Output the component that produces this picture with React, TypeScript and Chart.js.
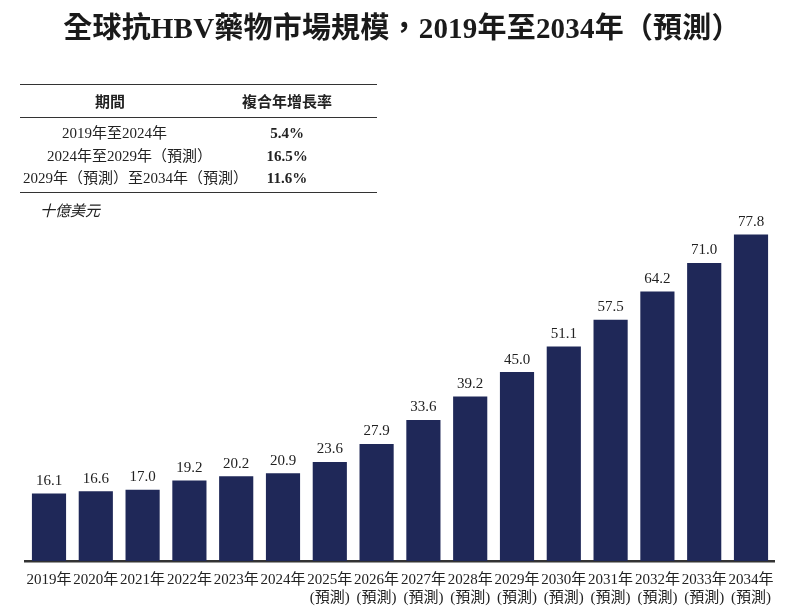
import React, { useEffect, useRef } from "react";
import { Chart, registerables } from "chart.js";

Chart.register(...registerables);

const years = ["2019年", "2020年", "2021年", "2022年", "2023年", "2024年", "2025年", "2026年", "2027年", "2028年", "2029年", "2030年", "2031年", "2032年", "2033年", "2034年"];
const forecastFlags = [false, false, false, false, false, false, true, true, true, true, true, true, true, true, true, true];
const marketSize = [16.1, 16.6, 17.0, 19.2, 20.2, 20.9, 23.6, 27.9, 33.6, 39.2, 45.0, 51.1, 57.5, 64.2, 71.0, 77.8];
const periods = ["2019年至2024年", "2024年至2029年（預測）", "2029年（預測）至2034年（預測）"];
const cagrs = ["5.4%", "16.5%", "11.6%"];

const SERIF = "'Liberation Serif', 'Times New Roman', 'Noto Sans CJK TC', serif";
const SANS = "'Noto Sans CJK TC', 'Noto Sans', sans-serif";
const BAR_COLOR = "#1f2858";
const periodLefts = [62, 47, 23];

const valueLabelPlugin = {
  id: "valueLabels",
  afterDatasetsDraw(chart: any) {
    const ctx = chart.ctx;
    const meta = chart.getDatasetMeta(0);
    ctx.save();
    ctx.font = `15px ${SERIF}`;
    ctx.fillStyle = "#222";
    ctx.textAlign = "center";
    ctx.textBaseline = "bottom";
    meta.data.forEach((bar: any, i: number) => {
      ctx.fillText(marketSize[i].toFixed(1), bar.x, bar.y - 5);
    });
    ctx.restore();
  },
};

export default function App() {
  const canvasRef = useRef<HTMLCanvasElement | null>(null);

  useEffect(() => {
    const labels = years.map((y, i) => (forecastFlags[i] ? [y, "(預測)"] : y));
    const chart = new Chart(canvasRef.current as HTMLCanvasElement, {
      type: "bar",
      data: {
        labels,
        datasets: [
          {
            data: marketSize,
            backgroundColor: BAR_COLOR,
            categoryPercentage: 1,
            barPercentage: 0.73,
          },
        ],
      },
      options: {
        animation: false,
        responsive: false,
        maintainAspectRatio: false,
        layout: { padding: { left: 25.6, right: 17.6, top: 200, bottom: 0 } },
        plugins: { legend: { display: false }, tooltip: { enabled: false }, title: { display: false } },
        scales: {
          x: {
            grid: { display: false },
            border: { display: true, color: "#333", width: 2.5 },
            ticks: {
              autoSkip: false,
              maxRotation: 0,
              minRotation: 0,
              padding: 2,
              color: "#222",
              font: { family: SERIF, size: 15, lineHeight: 1.2 },
            },
          },
          y: {
            display: false,
            min: 0,
            max: 86,
          },
        },
      },
      plugins: [valueLabelPlugin],
    });
    return () => chart.destroy();
  }, []);

  const abs = (extra: React.CSSProperties): React.CSSProperties => ({
    position: "absolute",
    whiteSpace: "nowrap",
    color: "#222",
    ...extra,
  });

  return (
    <div style={{ position: "absolute", left: 0, top: 0, width: 792, height: 609, background: "#fff", overflow: "hidden" }}>
      <canvas ref={canvasRef} width={792} height={609} style={{ position: "absolute", left: 0, top: 0, width: 792, height: 609 }} />
      <div style={abs({ left: 6, width: 792, top: 10, textAlign: "center", fontFamily: SERIF, fontWeight: "bold", fontSize: 29, letterSpacing: 0.2, lineHeight: "36px", color: "#1a1a1a" })}>
        全球抗HBV藥物市場規模，2019年至2034年（預測）
      </div>
      <div style={abs({ left: 20, top: 84, width: 357, height: 0, borderTop: "1.5px solid #333" })} />
      <div style={abs({ left: 20, top: 117, width: 357, height: 0, borderTop: "1px solid #333" })} />
      <div style={abs({ left: 20, top: 192, width: 357, height: 0, borderTop: "1.5px solid #333" })} />
      <div style={abs({ left: 60, width: 100, top: 90, textAlign: "center", fontFamily: SANS, fontWeight: "bold", fontSize: 15, lineHeight: "22px" })}>期間</div>
      <div style={abs({ left: 237, width: 100, top: 90, textAlign: "center", fontFamily: SANS, fontWeight: "bold", fontSize: 15, lineHeight: "22px" })}>複合年增長率</div>
      {periods.map((p, i) => (
        <div key={p} style={abs({ left: periodLefts[i], top: 122 + i * 22.5, fontFamily: SERIF, fontSize: 15, lineHeight: "22px" })}>
          {p}
        </div>
      ))}
      {cagrs.map((c, i) => (
        <div key={c} style={abs({ left: 237, width: 100, top: 122 + i * 22.5, textAlign: "center", fontFamily: SERIF, fontWeight: "bold", fontSize: 15, lineHeight: "22px" })}>
          {c}
        </div>
      ))}
      <div style={abs({ left: 40, top: 200, fontFamily: SERIF, fontStyle: "italic", fontSize: 15, lineHeight: "22px" })}>十億美元</div>
    </div>
  );
}
